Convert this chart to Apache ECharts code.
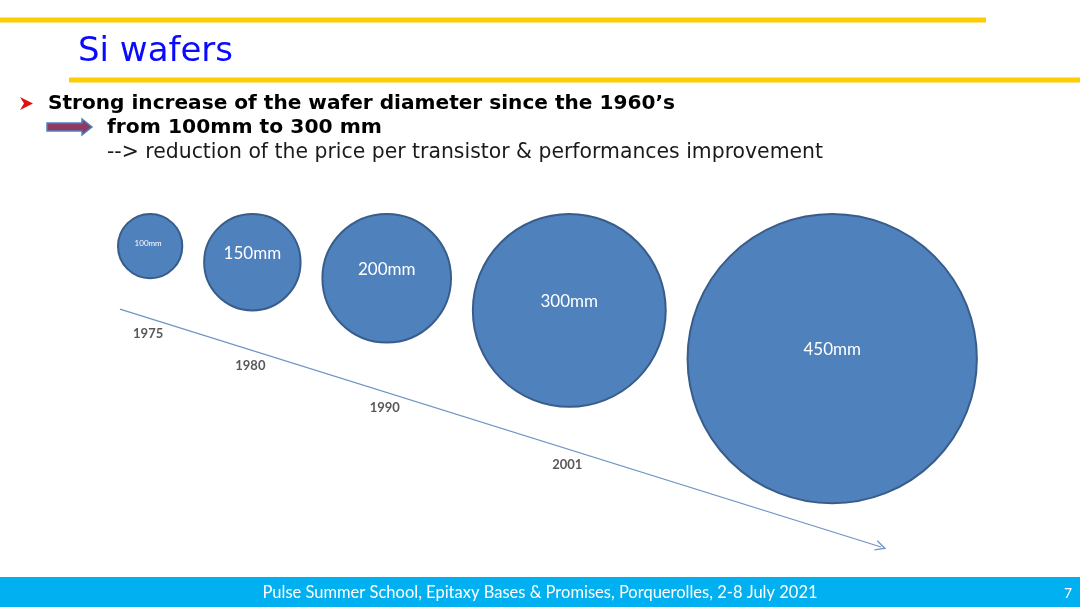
<!DOCTYPE html>
<html>
<head>
<meta charset="utf-8">
<script src="https://cdn.jsdelivr.net/npm/echarts@6/dist/echarts.min.js"></script>
<style>
html,body{margin:0;padding:0;background:#fff;}
#chart{width:1080px;height:607px;}
</style>
</head>
<body>
<div id="chart"></div>
<script>
// ---- data ----
const waferLabels = ['100mm', '150mm', '200mm', '300mm', '450mm'];
const waferDiameters = [100, 150, 200, 300, 450];
const yearLabels = ['1975', '1980', '1990', '2001'];

// ---- layout constants (not data) ----
const GRID_LEFT = 118, GRID_TOP = 214, GRID_W = 900;
const X_MAX = 1400, Y_MAX = 600;
const K = GRID_W / X_MAX;           // px per mm
const GAP = 34;                      // mm between wafers
const TIMELINE = { from: [3, 148], to: [1187, 518] };

// centers derived from diameters (top aligned, laid side by side)
const waferPoints = [];
let cursor = 0;
waferDiameters.forEach((d, i) => {
  waferPoints.push({ name: waferLabels[i], value: [cursor + d / 2, d / 2, d] });
  cursor += d + GAP;
});
const slope = (TIMELINE.to[1] - TIMELINE.from[1]) / (TIMELINE.to[0] - TIMELINE.from[0]);
const yearPoints = yearLabels.map((y, i) => {
  const x = waferPoints[i].value[0];
  return { name: y, value: [x, TIMELINE.from[1] + (x - TIMELINE.from[0]) * slope] };
});

const chart = echarts.init(document.getElementById('chart'), null, { renderer: 'canvas' });
const chevron = 'path://M5,0 L10,10 L8.6,10 L5,2.8 L1.4,10 L0,10 Z';

const option = {
  animation: false,
  backgroundColor: '#ffffff',
  grid: { left: GRID_LEFT, top: GRID_TOP, width: GRID_W, height: Y_MAX * K },
  xAxis: { type: 'value', min: 0, max: X_MAX, show: false },
  yAxis: { type: 'value', min: 0, max: Y_MAX, inverse: true, show: false },
  series: [
    {
      type: 'scatter',
      silent: true,
      data: yearPoints,
      symbolSize: 2,
      itemStyle: { color: 'rgba(255,255,255,0)' },
      label: {
        show: true, position: 'inside', offset: [-2, 15],
        formatter: p => p.name,
        color: '#2e2e2e', fontFamily: 'Lato', fontWeight: 'bold', fontSize: 13
      },
      markLine: {
        silent: true,
        symbol: ['none', chevron],
        symbolSize: [11, 11],
        label: { show: false },
        lineStyle: { type: 'solid', color: '#6f95c6', width: 1.3 },
        data: [[{ coord: TIMELINE.from }, { coord: TIMELINE.to }]]
      }
    },
    {
      type: 'scatter',
      silent: true,
      data: waferPoints,
      symbol: 'circle',
      symbolSize: v => v[2] * K,
      itemStyle: { color: '#4f81bd', borderColor: '#385d8a', borderWidth: 2, opacity: 1 },
      label: {
        show: true, position: 'inside',
        formatter: p => p.name,
        color: '#ffffff', fontFamily: 'Lato', fontSize: 17
      }
    }
  ],
  graphic: [
    { type: 'rect', shape: { x: 0, y: 17.5, width: 986, height: 5 }, style: { fill: '#ffcc00' }, silent: true },
    { type: 'rect', shape: { x: 69, y: 77.5, width: 1011, height: 5 }, style: { fill: '#ffcc00' }, silent: true },
    { type: 'text', x: 78, y: 52, style: { text: 'Si wafers', fill: '#0a0aff', fontFamily: 'DejaVu Sans', fontSize: 34, textVerticalAlign: 'middle' }, silent: true },
    { type: 'polygon', shape: { points: [[20, 97], [33, 103.5], [20, 110], [24, 103.5]] }, style: { fill: '#e01010' }, silent: true },
    { type: 'text', x: 48, y: 104, style: { text: 'Strong increase of the wafer diameter since the 1960’s', fill: '#000', fontFamily: 'DejaVu Sans', fontWeight: 'bold', fontSize: 20.1, textVerticalAlign: 'middle' }, silent: true },
    { type: 'polygon', shape: { points: [[47, 123], [82, 123], [82, 119], [92, 127], [82, 135], [82, 131], [47, 131]] }, style: { fill: '#8e3a63', stroke: '#4f81bd', lineWidth: 1.5 }, silent: true },
    { type: 'text', x: 107, y: 128, style: { text: 'from 100mm to 300 mm', fill: '#000', fontFamily: 'DejaVu Sans', fontWeight: 'bold', fontSize: 20.3, textVerticalAlign: 'middle' }, silent: true },
    { type: 'text', x: 107, y: 153, style: { text: '--> reduction of the price per transistor & performances improvement', fill: '#1a1a1a', fontFamily: 'DejaVu Sans', fontSize: 20.4, textVerticalAlign: 'middle' }, silent: true },
    { type: 'rect', shape: { x: 0, y: 577, width: 1080, height: 30 }, style: { fill: '#00b0f0' }, silent: true },
    { type: 'text', x: 540, y: 593, style: { text: 'Pulse Summer School, Epitaxy Bases & Promises, Porquerolles, 2-8 July 2021', fill: '#ffffff', fontFamily: 'Lato', fontSize: 16.5, textAlign: 'center', textVerticalAlign: 'middle' }, silent: true },
    { type: 'text', x: 1068, y: 593, style: { text: '7', fill: '#ffffff', fontFamily: 'Lato', fontSize: 14, textAlign: 'center', textVerticalAlign: 'middle' }, silent: true }
  ]
};

// per-wafer label tuning: small wafer gets small text
option.series[1].data = waferPoints.map(p => ({
  name: p.name,
  value: p.value,
  label: p.value[2] < 120 ? { fontSize: 8, offset: [-2, -3] } : { fontSize: 17, offset: [0, -9] }
}));

chart.setOption(option);
</script>
</body>
</html>
